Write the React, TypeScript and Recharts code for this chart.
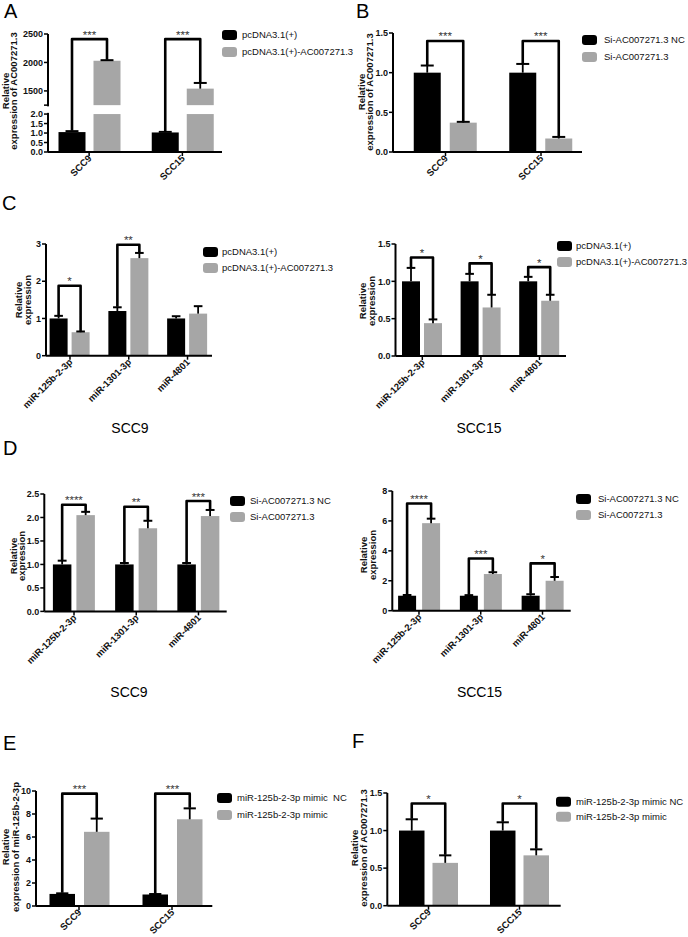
import React from 'react';
import { BarChart, Bar, XAxis, YAxis } from 'recharts';

const FONT = '"Liberation Sans", Arial, Helvetica, sans-serif';
const BLACK = '#000000';
const GRAY = '#a6a6a6';

// ---- categories & legends ----
const cellLines = ['SCC9', 'SCC15'];
const mirnas = ['miR-125b-2-3p', 'miR-1301-3p', 'miR-4801'];
const vectorNames = ['pcDNA3.1(+)', 'pcDNA3.1(+)-AC007271.3'];
const siNames = ['Si-AC007271.3 NC', 'Si-AC007271.3'];
const mimicNamesE = ['miR-125b-2-3p mimic  NC', 'miR-125b-2-3p mimic'];
const mimicNamesF = ['miR-125b-2-3p mimic NC', 'miR-125b-2-3p mimic'];

// ---- A: overexpression, broken axis ----
const aBlack = [1.05, 1.03];
const aBlackErr = [0.05, 0.03];
const aGray = [2030, 1540];
const aGrayErr = [10, 100];
const aBracket = [2410, 2410];
const aStars = ['***', '***'];
const aTicksLow = [0, 0.5, 1, 1.5, 2];
const aTicksHigh = [1500, 2000, 2500];
const aBreak = 1250;

// ---- B: knockdown ----
const bBlack = [1.0, 1.0];
const bBlackErr = [0.09, 0.11];
const bGray = [0.37, 0.17];
const bGrayErr = [0.01, 0.02];
const bBracket = [1.4, 1.4];
const bStars = ['***', '***'];
const bTicks = [0, 0.5, 1, 1.5];

// ---- C: SCC9 / SCC15 overexpression ----
const c9Black = [1.0, 1.2, 1.0];
const c9BlackErr = [0.07, 0.1, 0.06];
const c9Gray = [0.63, 2.62, 1.13];
const c9GrayErr = [0.02, 0.14, 0.2];
const c9Bracket = [1.88, 2.98, null];
const c9Stars = ['*', '**', ''];
const c9Ticks = [0, 1, 2, 3];

const c15Black = [1.0, 1.0, 1.0];
const c15BlackErr = [0.18, 0.1, 0.06];
const c15Gray = [0.44, 0.65, 0.74];
const c15GrayErr = [0.05, 0.17, 0.08];
const c15Bracket = [1.32, 1.24, 1.19];
const c15Stars = ['*', '*', '*'];
const c15Ticks = [0, 0.5, 1, 1.5];

// ---- D: SCC9 / SCC15 knockdown ----
const d9Black = [1.0, 1.0, 1.0];
const d9BlackErr = [0.08, 0.03, 0.03];
const d9Gray = [2.05, 1.77, 2.03];
const d9GrayErr = [0.07, 0.16, 0.13];
const d9Bracket = [2.27, 2.23, 2.35];
const d9Stars = ['****', '**', '***'];
const d9Ticks = [0, 0.5, 1, 1.5, 2, 2.5];

const d15Black = [1.0, 1.0, 1.0];
const d15BlackErr = [0.05, 0.04, 0.1];
const d15Gray = [5.85, 2.45, 2.0];
const d15GrayErr = [0.3, 0.12, 0.25];
const d15Bracket = [7.16, 3.49, 3.16];
const d15Stars = ['****', '***', '*'];
const d15Ticks = [0, 2, 4, 6, 8];

// ---- E: mimic, miR-125b-2-3p ----
const eBlack = [1.05, 1.0];
const eBlackErr = [0.05, 0.04];
const eGray = [6.45, 7.54];
const eGrayErr = [1.15, 0.95];
const eBracket = [9.77, 9.77];
const eStars = ['***', '***'];
const eTicks = [0, 2, 4, 6, 8, 10];

// ---- F: mimic, AC007271.3 ----
const fBlack = [1.0, 1.0];
const fBlackErr = [0.15, 0.11];
const fGray = [0.57, 0.67];
const fGrayErr = [0.1, 0.08];
const fBracket = [1.36, 1.36];
const fStars = ['*', '*'];
const fTicks = [0, 0.5, 1, 1.5];

// broken-axis mapping for panel A
const LOW_TOP = 2;
const GAP = 0.47;
const HIGH_SCALE = 0.003;
const aDisplay = (v: number) => (v <= LOW_TOP ? v : LOW_TOP + GAP + (v - aBreak) * HIGH_SCALE);

type Spec = {
  cats: string[];
  black: number[];
  blackErr: number[];
  gray: number[];
  grayErr: number[];
  bracket: (number | null)[];
  stars: string[];
  ticks: number[];
  labels: string[];
  plot: [number, number, number, number];
  col: number;
  pad: [number, number];
  barSize: number;
  barGap: number;
  toDisplay?: (v: number) => number;
  split?: [number, number];
  legend: string[];
  legendPos: [number, number, number, number];
  yLabel: string[];
  yLabelPos: [number, number, number];
};

const fmt = (d: number) => (v: number) => v.toFixed(d);

const specs: Spec[] = [
  {
    cats: cellLines, black: aBlack, blackErr: aBlackErr, gray: aGray, grayErr: aGrayErr,
    bracket: aBracket, stars: aStars,
    ticks: [...aTicksLow, aBreak, ...aTicksHigh].map(aDisplay),
    labels: [...aTicksLow.map(fmt(1)), '', ...aTicksHigh.map(fmt(0))],
    plot: [48, 34, 222, 152], col: 0, pad: [-5.5, -7], barSize: 27, barGap: 8,
    toDisplay: aDisplay, split: [LOW_TOP, LOW_TOP + GAP],
    legend: vectorNames, legendPos: [222, 35, 52, 242],
    yLabel: ['Relative', 'expression of AC007271.3'], yLabelPos: [8.5, 17, 91],
  },
  {
    cats: cellLines, black: bBlack, blackErr: bBlackErr, gray: bGray, grayErr: bGrayErr,
    bracket: bBracket, stars: bStars, ticks: bTicks, labels: bTicks.map(fmt(1)),
    plot: [393, 33, 582, 152], col: 344, pad: [4.75, -6.75], barSize: 27, barGap: 9,
    legend: siNames, legendPos: [582, 40, 57, 604],
    yLabel: ['Relative', 'expression of AC007271.3'], yLabelPos: [364.5, 373, 92],
  },
  {
    cats: mirnas, black: c9Black, blackErr: c9BlackErr, gray: c9Gray, grayErr: c9GrayErr,
    bracket: c9Bracket, stars: c9Stars, ticks: c9Ticks, labels: c9Ticks.map(fmt(0)),
    plot: [46, 244, 212, 355.7], col: 0, pad: [-5.4, -4.9], barSize: 18, barGap: 4,
    legend: vectorNames, legendPos: [203, 252, 268, 222],
    yLabel: ['Relative', 'expression'], yLabelPos: [22, 31, 300],
  },
  {
    cats: mirnas, black: c15Black, blackErr: c15BlackErr, gray: c15Gray, grayErr: c15GrayErr,
    bracket: c15Bracket, stars: c15Stars, ticks: c15Ticks, labels: c15Ticks.map(fmt(1)),
    plot: [395.5, 244, 566, 356], col: 344, pad: [-2.5, -2.8], barSize: 18, barGap: 4,
    legend: vectorNames, legendPos: [557, 246, 262, 576],
    yLabel: ['Relative', 'expression'], yLabelPos: [366, 374.5, 301],
  },
  {
    cats: mirnas, black: d9Black, blackErr: d9BlackErr, gray: d9Gray, grayErr: d9GrayErr,
    bracket: d9Bracket, stars: d9Stars, ticks: d9Ticks, labels: d9Ticks.map(fmt(1)),
    plot: [44.3, 494.3, 226.7, 611.7], col: 0, pad: [-1.4, -2.9], barSize: 18.5, barGap: 5,
    legend: siNames, legendPos: [230, 501, 517, 250],
    yLabel: ['Relative', 'expression'], yLabelPos: [16.5, 25, 556],
  },
  {
    cats: mirnas, black: d15Black, blackErr: d15BlackErr, gray: d15Gray, grayErr: d15GrayErr,
    bracket: d15Bracket, stars: d15Stars, ticks: d15Ticks, labels: d15Ticks.map(fmt(0)),
    plot: [392.3, 491, 570.7, 610.7], col: 344, pad: [-4.2, -2.7], barSize: 18, barGap: 6,
    legend: siNames, legendPos: [576, 499, 515, 598],
    yLabel: ['Relative', 'expression'], yLabelPos: [367, 376, 555],
  },
  {
    cats: cellLines, black: eBlack, blackErr: eBlackErr, gray: eGray, grayErr: eGrayErr,
    bracket: eBracket, stars: eStars, ticks: eTicks, labels: eTicks.map(fmt(0)),
    plot: [36, 790.7, 212.3, 905.7], col: 0, pad: [-3.5, -6.2], barSize: 25.5, barGap: 9,
    legend: mimicNamesE, legendPos: [217, 798, 815, 237],
    yLabel: ['Relative', 'expression of miR-125b-2-3p'], yLabelPos: [9, 18.5, 847],
  },
  {
    cats: cellLines, black: fBlack, blackErr: fBlackErr, gray: fGray, grayErr: fGrayErr,
    bracket: fBracket, stars: fStars, ticks: fTicks, labels: fTicks.map(fmt(1)),
    plot: [387.3, 793.3, 560.7, 906], col: 344, pad: [-4.3, -4.3], barSize: 25.5, barGap: 8,
    legend: mimicNamesF, legendPos: [556, 801.7, 816.7, 576],
    yLabel: ['Relative', 'expression of AC007271.3'], yLabelPos: [357.5, 366.5, 848],
  },
];

const panelLetters = [
  { t: 'A', x: 4, y: 18 },
  { t: 'B', x: 356, y: 18 },
  { t: 'C', x: 2, y: 210 },
  { t: 'D', x: 3, y: 455 },
  { t: 'E', x: 3, y: 750 },
  { t: 'F', x: 352, y: 748 },
];

const captions = [
  { t: 'SCC9', x: 130, y: 433 },
  { t: 'SCC15', x: 479, y: 433 },
  { t: 'SCC9', x: 129, y: 697 },
  { t: 'SCC15', x: 479.5, y: 697 },
];

function buildRows(s: Spec) {
  const f = s.toDisplay ?? ((v: number) => v);
  return s.cats.map((cat, i) => ({
    cat,
    black: f(s.black[i]),
    gray: f(s.gray[i]),
    blackTop: f(s.black[i] + s.blackErr[i]),
    grayTop: f(s.gray[i] + s.grayErr[i]),
    bracket: s.bracket[i] == null ? null : f(s.bracket[i] as number),
    stars: s.stars[i],
  }));
}

const XTick = (props: any) => {
  const { x, y, payload } = props;
  return (
    <text
      transform={`translate(${x + 3},${y + 1}) rotate(-45)`}
      textAnchor="end"
      fontSize={9.5}
      fontWeight="bold"
      fontFamily={FONT}
      fill="#111"
    >
      {payload.value}
    </text>
  );
};

function Panel({ s }: { s: Spec }) {
  const rows = buildRows(s);
  const [L, T, R, B] = s.plot;
  const mt = 20;
  const mr = 12;
  const xh = Math.min(60, 936 - B);
  const plotH = B - T;
  const max = s.ticks[s.ticks.length - 1];
  const width = R - s.col + mr;
  const height = mt + plotH + xh;

  const yTick = (props: any) => {
    const { x, y, payload } = props;
    const idx = s.ticks.findIndex((t) => Math.abs(t - payload.value) < 1e-6);
    const label = idx >= 0 ? s.labels[idx] : '';
    let gap = null;
    if (s.split && Math.abs(payload.value - s.split[1]) < 1e-6) {
      const gapPx = ((s.split[1] - s.split[0]) * plotH) / max;
      const axisX = x + 5;
      gap = <rect x={axisX - 2} y={y + 1.2} width={4} height={gapPx - 2.4} fill="#fff" />;
    }
    return (
      <g>
        {gap}
        <text x={x} y={y} dy={3.2} textAnchor="end" fontSize={9} fontWeight="bold" fontFamily={FONT} fill="#111">
          {label}
        </text>
      </g>
    );
  };

  const blackShape = (props: any) => {
    const { x, y, width: w, height: h, payload } = props;
    if (!h || !payload) return <g />;
    const base = y + h;
    const k = h / payload.black;
    const top = base - payload.blackTop * k;
    const cx = x + w / 2;
    const cap = w * 0.48;
    return (
      <g>
        <rect x={x} y={y} width={w} height={h} fill={BLACK} />
        <line x1={cx} x2={cx} y1={y} y2={top} stroke={BLACK} strokeWidth={1.8} />
        <line x1={cx - cap / 2} x2={cx + cap / 2} y1={top} y2={top} stroke={BLACK} strokeWidth={2} />
      </g>
    );
  };

  const grayShape = (props: any) => {
    const { x, y, width: w, height: h, payload } = props;
    if (!h || !payload) return <g />;
    const base = y + h;
    const k = h / payload.gray;
    const py = (v: number) => base - v * k;
    const top = py(payload.grayTop);
    const cx = x + w / 2;
    const bx = cx - w - s.barGap;
    const cap = w * 0.48;
    const rects = s.split ? (
      <>
        <rect x={x} y={py(s.split[0])} width={w} height={base - py(s.split[0])} fill={GRAY} />
        <rect x={x} y={y} width={w} height={py(s.split[1]) - y} fill={GRAY} />
      </>
    ) : (
      <rect x={x} y={y} width={w} height={h} fill={GRAY} />
    );
    let bracket = null;
    if (payload.bracket != null) {
      const yb = py(payload.bracket);
      const yl = py(payload.blackTop);
      bracket = (
        <g>
          <path
            d={`M${bx},${yl - 0.5} V${yb} H${cx} V${top - 0.5}`}
            fill="none"
            stroke={BLACK}
            strokeWidth={2.6}
            strokeLinejoin="round"
          />
          <text x={(bx + cx) / 2} y={yb - 0.5} textAnchor="middle" fontSize={11.5} fontFamily={FONT} fill="#333">
            {payload.stars}
          </text>
        </g>
      );
    }
    return (
      <g>
        {rects}
        <line x1={cx} x2={cx} y1={y} y2={top} stroke={BLACK} strokeWidth={1.8} />
        <line x1={cx - cap / 2} x2={cx + cap / 2} y1={top} y2={top} stroke={BLACK} strokeWidth={2} />
        {bracket}
      </g>
    );
  };

  return (
    <div style={{ position: 'absolute', left: s.col, top: T - mt }}>
      <BarChart
        width={width}
        height={height}
        data={rows}
        margin={{ top: mt, right: mr, bottom: 0, left: 0 }}
        barSize={s.barSize}
        barGap={s.barGap}
      >
        <XAxis
          dataKey="cat"
          height={xh}
          padding={{ left: s.pad[0], right: s.pad[1] }}
          interval={0}
          tick={XTick}
          tickSize={4}
          tickMargin={2}
          axisLine={{ stroke: BLACK, strokeWidth: 2 }}
          tickLine={{ stroke: BLACK, strokeWidth: 1.5 }}
        />
        <YAxis
          type="number"
          width={L - s.col}
          domain={[0, max]}
          ticks={s.ticks}
          interval={0}
          tick={yTick}
          tickSize={4}
          tickMargin={1}
          axisLine={{ stroke: BLACK, strokeWidth: 2 }}
          tickLine={{ stroke: BLACK, strokeWidth: 1.5 }}
        />
        <Bar dataKey="black" fill={BLACK} isAnimationActive={false} shape={blackShape} />
        <Bar dataKey="gray" fill={GRAY} isAnimationActive={false} shape={grayShape} />
      </BarChart>
    </div>
  );
}

export default function App() {
  return (
    <div style={{ position: 'absolute', left: 0, top: 0, width: 688, height: 937, background: '#fff', fontFamily: FONT, overflow: 'hidden' }}>
      {specs.map((s, i) => (
        <Panel key={i} s={s} />
      ))}
      <svg width={688} height={937} style={{ position: 'absolute', left: 0, top: 0, pointerEvents: 'none' }}>
        {panelLetters.map((l) => (
          <text key={l.t} x={l.x} y={l.y} fontSize={20} fontFamily={FONT} fill="#000">
            {l.t}
          </text>
        ))}
        {captions.map((c, i) => (
          <text key={i} x={c.x} y={c.y} fontSize={14} textAnchor="middle" fontFamily={FONT} fill="#000">
            {c.t}
          </text>
        ))}
        {specs.map((s, i) => {
          const [sx, y1, y2, tx] = s.legendPos;
          return (
            <g key={`lg${i}`}>
              {s.legend.map((name, j) => {
                const yc = j === 0 ? y1 : y2;
                return (
                  <g key={j}>
                    <rect x={sx} y={yc - 5} width={15} height={10} rx={3} fill={j === 0 ? BLACK : GRAY} />
                    <text x={tx} y={yc + 3.4} fontSize={9.5} fontFamily={FONT} fill="#111" style={{ whiteSpace: 'pre' }}>
                      {name}
                    </text>
                  </g>
                );
              })}
            </g>
          );
        })}
        {specs.map((s, i) => {
          const [x1, x2, cy] = s.yLabelPos;
          return (
            <g key={`yl${i}`}>
              {s.yLabel.map((line, j) => (
                <text
                  key={j}
                  transform={`translate(${j === 0 ? x1 : x2},${cy}) rotate(-90)`}
                  textAnchor="middle"
                  fontSize={9.5}
                  fontWeight="bold"
                  fontFamily={FONT}
                  fill="#111"
                >
                  {line}
                </text>
              ))}
            </g>
          );
        })}
      </svg>
    </div>
  );
}
